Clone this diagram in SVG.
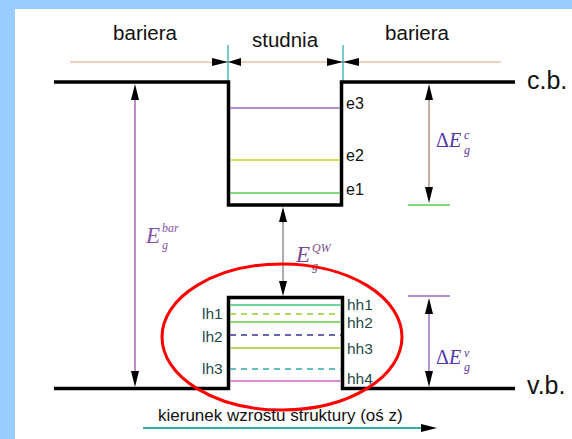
<svg xmlns="http://www.w3.org/2000/svg" width="572" height="439" viewBox="0 0 572 439">
<style>
.t{font-family:"Liberation Sans",Arial,sans-serif;fill:#111}
.lab{font-family:"Liberation Sans",Arial,sans-serif;font-size:15.5px;fill:#1f4a4a}
.m{font-family:"Liberation Serif","Times New Roman",serif;font-style:italic}
.up{font-style:normal}
.band{fill:none;stroke:#000;stroke-width:3.5;stroke-linejoin:miter}
.lvl{stroke-width:1.3;fill:none}
.dash{stroke-dasharray:6 5}
.ah{fill:#000}
</style>
<rect x="0" y="0" width="572" height="439" fill="#99CCFF"/>
<rect x="15" y="9" width="557" height="430" fill="#fff"/>

<g id="labels-top">
<text class="t" x="145" y="40" font-size="20.5" text-anchor="middle">bariera</text>
<text class="t" x="285" y="47" font-size="20.5" text-anchor="middle">studnia</text>
<text class="t" x="417" y="40" font-size="20.5" text-anchor="middle">bariera</text>
<text class="t" x="527" y="89" font-size="25">c.b.</text>
<text class="t" x="527" y="394" font-size="25">v.b.</text>
</g>

<g id="dimension">
<line x1="70" y1="62" x2="501" y2="62" stroke="#E8A080" stroke-width="1.2"/>
<line x1="228" y1="45" x2="228" y2="82" stroke="#30B0B0" stroke-width="1.3"/>
<line x1="343" y1="45" x2="343" y2="82" stroke="#30B0B0" stroke-width="1.3"/>
<polygon class="ah" points="228,62 212,58 212,66"/>
<polygon class="ah" points="228,62 241,58 241,66"/>
<polygon class="ah" points="343,62 327,58 327,66"/>
<polygon class="ah" points="343,62 359,58 359,66"/>
</g>

<g id="conduction-band">
<polyline class="band" points="54,82 228.5,82 228.5,205 341.5,205 341.5,82 515,82"/>
<line class="lvl" x1="230" y1="108" x2="340" y2="108" stroke="#9966BB"/>
<line class="lvl" x1="230" y1="160" x2="340" y2="160" stroke="#C8D030"/>
<line class="lvl" x1="230" y1="193" x2="340" y2="193" stroke="#55CC55"/>
<text class="t" x="346" y="109" font-size="16">e3</text>
<text class="t" x="346" y="161" font-size="16">e2</text>
<text class="t" x="346" y="195" font-size="16">e1</text>
</g>

<g id="valence-band">
<polyline class="band" points="54,388.5 228.5,388.5 228.5,297.5 342.5,297.5 342.5,388.5 515,388.5"/>
<line class="lvl" x1="230" y1="305" x2="341" y2="305" stroke="#33CC77"/>
<line class="lvl dash" x1="230" y1="314" x2="341" y2="314" stroke="#99CC33"/>
<line class="lvl" x1="230" y1="322" x2="341" y2="322" stroke="#66CC44"/>
<line class="lvl dash" x1="230" y1="335" x2="341" y2="335" stroke="#333399"/>
<line class="lvl" x1="230" y1="348" x2="341" y2="348" stroke="#A0CC20"/>
<line class="lvl dash" x1="230" y1="369" x2="341" y2="369" stroke="#33AAAA"/>
<line class="lvl" x1="230" y1="381" x2="341" y2="381" stroke="#CC66CC"/>
<text class="lab" x="202" y="319">lh1</text>
<text class="lab" x="202" y="342">lh2</text>
<text class="lab" x="202" y="374">lh3</text>
<text class="lab" x="347" y="310">hh1</text>
<text class="lab" x="347" y="328">hh2</text>
<text class="lab" x="347" y="354">hh3</text>
<text class="lab" x="347" y="384">hh4</text>
</g>

<g id="connectors">
<line x1="135" y1="95" x2="135" y2="376" stroke="#A966B8" stroke-width="1.5"/>
<polygon class="ah" points="135,84 131,100 139,100"/>
<polygon class="ah" points="135,387 131,371 139,371"/>
<line x1="283" y1="215" x2="283" y2="290" stroke="#808080" stroke-width="1.3"/>
<polygon class="ah" points="283,207 279,222 287,222"/>
<polygon class="ah" points="283,296 279,281 287,281"/>
<line x1="429" y1="95" x2="429" y2="192" stroke="#B08070" stroke-width="1.3"/>
<polygon class="ah" points="429,84 425,100 433,100"/>
<polygon class="ah" points="429,203 425,187 433,187"/>
<line x1="408" y1="205" x2="450" y2="205" stroke="#55CC55" stroke-width="1.3"/>
<line x1="408" y1="296" x2="450" y2="296" stroke="#9966BB" stroke-width="1.3"/>
<line x1="429" y1="310" x2="429" y2="376" stroke="#8A5AC0" stroke-width="1.3"/>
<polygon class="ah" points="429,298 425,314 433,314"/>
<polygon class="ah" points="429,387 425,371 433,371"/>
<line x1="143" y1="428" x2="424" y2="428" stroke="#30B0B0" stroke-width="2"/>
<polygon class="ah" points="437,428 421,424 421,432"/>
</g>

<g id="energy-labels">
<text class="m" x="146" y="243" font-size="23" fill="#8855AA">E</text>
<text class="m" x="162" y="249" font-size="12" fill="#8855AA">g</text>
<text class="m" x="162" y="232" font-size="12" fill="#8855AA">bar</text>
<text class="m" x="296" y="262" font-size="23" fill="#7A4A8A">E</text>
<text class="m" x="312" y="270" font-size="12" fill="#7A4A8A">g</text>
<text class="m" x="312" y="252" font-size="12" fill="#7A4A8A">QW</text>
<text class="m" x="436" y="147" font-size="20" fill="#5533AA"><tspan class="up">Δ</tspan>E</text>
<text class="m" x="464" y="154" font-size="12" fill="#5533AA">g</text>
<text class="m" x="464" y="139" font-size="12" fill="#5533AA">c</text>
<text class="m" x="436" y="364" font-size="20" fill="#5533AA"><tspan class="up">Δ</tspan>E</text>
<text class="m" x="464" y="371" font-size="12" fill="#5533AA">g</text>
<text class="m" x="464" y="357" font-size="12" fill="#5533AA">v</text>
</g>

<g id="highlight">
<ellipse cx="282" cy="337" rx="120" ry="73" fill="none" stroke="#FF0000" stroke-width="3"/>
</g>

<g id="axis-label">
<text class="t" x="158" y="421" font-size="17" fill="#1E3A1E">kierunek wzrostu struktury (oś z)</text>
</g>
</svg>
